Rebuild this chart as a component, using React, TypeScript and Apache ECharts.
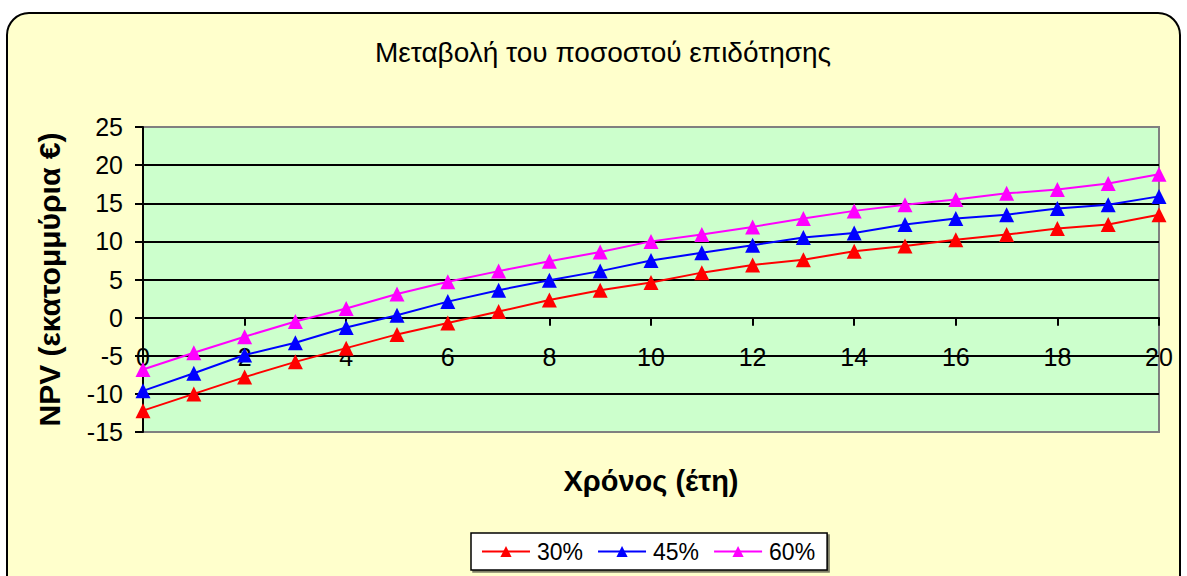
import React, { useEffect, useRef } from "react";
import * as echarts from "echarts";

const years: number[] = [0, 1, 2, 3, 4, 5, 6, 7, 8, 9, 10, 11, 12, 13, 14, 15, 16, 17, 18, 19, 20];
const npv30: number[] = [-12.2, -10.0, -7.8, -5.8, -4.0, -2.2, -0.7, 0.8, 2.3, 3.6, 4.6, 5.9, 6.9, 7.6, 8.7, 9.4, 10.2, 10.9, 11.7, 12.2, 13.5];
const npv45: number[] = [-9.6, -7.3, -4.9, -3.3, -1.3, 0.3, 2.1, 3.6, 4.9, 6.1, 7.5, 8.5, 9.5, 10.5, 11.1, 12.2, 13.0, 13.5, 14.3, 14.8, 15.9];
const npv60: number[] = [-6.8, -4.6, -2.5, -0.5, 1.2, 3.1, 4.7, 6.1, 7.4, 8.6, 10.0, 10.9, 11.9, 13.0, 14.0, 14.8, 15.5, 16.3, 16.8, 17.6, 18.8];
const seriesNames: string[] = ["30%", "45%", "60%"];
const seriesColors: string[] = ["#FF0000", "#0000FF", "#FF00FF"];

const FONT = "Liberation Sans, Arial, sans-serif";

export default function App() {
  const ref = useRef<HTMLDivElement>(null);
  useEffect(() => {
    if (!ref.current) return;
    const chart = echarts.init(ref.current, undefined, { renderer: "svg" });
    const data = [npv30, npv45, npv60];
    chart.setOption({
      animation: false,
      backgroundColor: "#FFFFFF",
      textStyle: { fontFamily: FONT },
      graphic: [
        {
          type: "rect",
          z: -10,
          silent: true,
          shape: { x: 7, y: 13, width: 1173, height: 620, r: 22 },
          style: { fill: "#FFFFCC", stroke: "#000000", lineWidth: 2 },
        },
      ],
      title: {
        text: "Μεταβολή του ποσοστού επιδότησης",
        left: 598,
        textAlign: "center",
        top: 33,
        textStyle: { fontFamily: FONT, fontSize: 28, fontWeight: "normal", color: "#000" },
      },
      legend: {
        left: 471,
        top: 533,
        data: seriesNames,
        backgroundColor: "#FFFFFF",
        borderColor: "#000000",
        borderWidth: 1.5,
        padding: [7, 12, 7, 10],
        itemGap: 14,
        itemWidth: 48,
        itemHeight: 14,
        shadowColor: "rgba(0,0,0,0.5)",
        shadowOffsetX: 2,
        shadowOffsetY: 2,
        shadowBlur: 0,
        textStyle: { fontFamily: FONT, fontSize: 23, color: "#000", padding: [0, 0, 0, 2] },
      },
      grid: {
        left: 143,
        top: 127,
        right: 28,
        bottom: 144,
        show: true,
        backgroundColor: "#CCFFCC",
        borderColor: "#808080",
        borderWidth: 2,
        containLabel: false,
        outerBoundsMode: "none",
      },
      xAxis: {
        type: "value",
        min: 0,
        max: 20,
        interval: 2,
        name: "Χρόνος (έτη)",
        nameLocation: "middle",
        nameGap: 34,
        nameTextStyle: { fontFamily: FONT, fontSize: 29, fontWeight: "bold", color: "#000" },
        axisLine: { onZero: true, lineStyle: { color: "#000", width: 2 } },
        axisTick: { show: true, inside: false, length: 8, lineStyle: { color: "#000", width: 2 } },
        axisLabel: { margin: -88, fontFamily: FONT, fontSize: 25, color: "#000" },
        splitLine: { show: false },
      },
      yAxis: {
        type: "value",
        min: -15,
        max: 25,
        interval: 5,
        name: "NPV (εκατομμύρια €)",
        nameLocation: "middle",
        nameGap: 79,
        nameRotate: 90,
        nameTextStyle: { fontFamily: FONT, fontSize: 30, fontWeight: "bold", color: "#000" },
        axisLine: { show: true, onZero: false, lineStyle: { color: "#000", width: 2 } },
        axisTick: { show: true, inside: false, length: 8, lineStyle: { color: "#000", width: 2 } },
        axisLabel: { margin: 20, fontFamily: FONT, fontSize: 25, color: "#000" },
        splitLine: { show: true, showMinLine: false, showMaxLine: false, lineStyle: { color: "#000", width: 2 } },
      },
      series: seriesNames.map((name, i) => ({
        name,
        type: "line",
        data: years.map((x, j) => [x, data[i][j]]),
        symbol: "triangle",
        symbolSize: 15,
        lineStyle: { color: seriesColors[i], width: 2 },
        itemStyle: { color: seriesColors[i] },
        z: 3 + i,
      })),
    });
    return () => chart.dispose();
  }, []);
  return (
    <div
      ref={ref}
      style={{ position: "fixed", left: 0, top: 0, width: 1187, height: 576 }}
    />
  );
}
